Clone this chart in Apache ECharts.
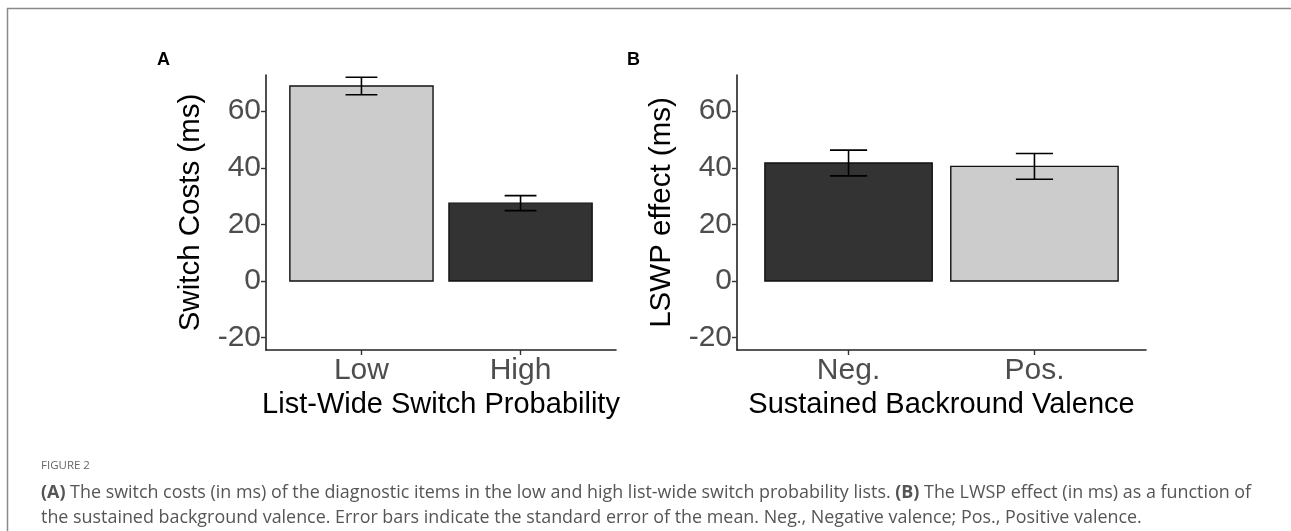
<!DOCTYPE html>
<html>
<head>
<meta charset="utf-8">
<script src="https://cdn.jsdelivr.net/npm/echarts@6/dist/echarts.min.js"></script>
<style>
html,body{margin:0;padding:0;background:#fff;}
#chart{width:1291px;height:531px;}
</style>
</head>
<body>
<div id="chart"></div>
<script>
// ---- data ----
const categoriesA = ['Low', 'High'];
const meansA = [68.9, 27.5];
const seA = [3.1, 2.65];
const categoriesB = ['Neg.', 'Pos.'];
const meansB = [41.7, 40.5];
const seB = [4.55, 4.55];
const yTicks = [-20, 0, 20, 40, 60];
const titleAxisA = 'List-Wide Switch Probability';
const titleAxisB = 'Sustained Backround Valence';
const yTitleA = 'Switch Costs (ms)';
const yTitleB = 'LSWP effect (ms)';
const captionHead = 'FIGURE 2';
const captionLine1 = ['(A)', ' The switch costs (in ms) of the diagnostic items in the low and high list-wide switch probability lists. ', '(B)', ' The LWSP effect (in ms) as a function of'];
const captionLine2 = 'the sustained background valence. Error bars indicate the standard error of the mean. Neg., Negative valence; Pos., Positive valence.';

// ---- styling ----
const LIGHT = '#cccccc', DARK = '#333333';
const fillsA = [LIGHT, DARK];
const fillsB = [DARK, LIGHT];
const FONT = '"Liberation Sans", Arial, sans-serif';
const CAPFONT = '"Open Sans", "Noto Sans", sans-serif';

// fit caption font to target line width
const cv = document.createElement('canvas').getContext('2d');
cv.font = '15px "Open Sans"';
const w15 = cv.measureText(captionLine1.join('')).width;
const capSize = Math.round(15 * 1208 / w15 * 10) / 10;

const chart = echarts.init(document.getElementById('chart'), null, {renderer: 'canvas'});

function xAxisFor(gridIndex, cats, name) {
  return {
    type: 'value', gridIndex, min: 0.4, max: 2.6,
    name, nameLocation: 'middle', nameGap: 39,
    nameTextStyle: {fontFamily: FONT, fontSize: 29, color: '#000'},
    axisLine: {show: true, onZero: false, lineStyle: {color: '#222', width: 1.6}},
    axisTick: {show: true, length: 5, lineStyle: {color: '#333', width: 1.4}, customValues: [1, 2]},
    axisLabel: {customValues: [1, 2], formatter: v => cats[Math.round(v) - 1], fontFamily: FONT, fontSize: 30, color: '#4d4d4d', margin: 6},
    splitLine: {show: false}
  };
}
function yAxisFor(gridIndex, name) {
  return {
    type: 'value', gridIndex, min: -24.4, max: 72.8,
    name, nameLocation: 'middle', nameGap: 60,
    nameTextStyle: {fontFamily: FONT, fontSize: 29.5, color: '#000'},
    axisLine: {show: true, onZero: false, lineStyle: {color: '#222', width: 1.6}},
    axisTick: {show: true, length: 5, lineStyle: {color: '#333', width: 1.4}, customValues: yTicks},
    axisLabel: {customValues: yTicks, fontFamily: FONT, fontSize: 30, color: '#4d4d4d', margin: 5},
    splitLine: {show: false}
  };
}
function barSeries(idx, means, fills) {
  return {
    type: 'custom', xAxisIndex: idx, yAxisIndex: idx,
    data: means.map((m, i) => [i + 1, m]),
    renderItem: (params, api) => {
      const x = api.value(0), y = api.value(1);
      const p0 = api.coord([x - 0.45, 0]);
      const p1 = api.coord([x + 0.45, y]);
      return {type: 'rect', shape: {x: p0[0], y: p1[1], width: p1[0] - p0[0], height: p0[1] - p1[1]},
        style: {fill: fills[params.dataIndex], stroke: '#111', lineWidth: 1.4}};
    }
  };
}
function errSeries(idx, means, ses) {
  return {
    type: 'custom', xAxisIndex: idx, yAxisIndex: idx, z: 5,
    data: means.map((m, i) => [i + 1, m - ses[i], m + ses[i]]),
    renderItem: (params, api) => {
      const x = api.value(0), lo = api.value(1), hi = api.value(2);
      const a = api.coord([x - 0.1, hi]), b = api.coord([x + 0.1, hi]);
      const c = api.coord([x - 0.1, lo]), d = api.coord([x + 0.1, lo]);
      const m1 = api.coord([x, hi]), m2 = api.coord([x, lo]);
      const st = {stroke: '#000', lineWidth: 1.6};
      return {type: 'group', children: [
        {type: 'line', shape: {x1: a[0], y1: a[1], x2: b[0], y2: b[1]}, style: st},
        {type: 'line', shape: {x1: c[0], y1: c[1], x2: d[0], y2: d[1]}, style: st},
        {type: 'line', shape: {x1: m1[0], y1: m1[1], x2: m2[0], y2: m2[1]}, style: st}
      ]};
    }
  };
}

const option = {
  animation: false,
  backgroundColor: '#fff',
  grid: [
    {left: 266, top: 75, width: 350, height: 275, outerBoundsMode: 'none', containLabel: false},
    {left: 737, top: 75, width: 409, height: 275, outerBoundsMode: 'none', containLabel: false}
  ],
  xAxis: [xAxisFor(0, categoriesA, titleAxisA), xAxisFor(1, categoriesB, titleAxisB)],
  yAxis: [yAxisFor(0, yTitleA), yAxisFor(1, yTitleB)],
  series: [
    barSeries(0, meansA, fillsA), errSeries(0, meansA, seA),
    barSeries(1, meansB, fillsB), errSeries(1, meansB, seB)
  ],
  graphic: [
    {type: 'line', shape: {x1: 7, y1: 8.5, x2: 1291, y2: 8.5}, style: {stroke: '#8a8a8a', lineWidth: 1.5}},
    {type: 'line', shape: {x1: 7.5, y1: 8, x2: 7.5, y2: 531}, style: {stroke: '#8a8a8a', lineWidth: 1.5}},
    {type: 'text', left: 157, top: 51, style: {text: 'A', font: 'bold 18px ' + FONT, fill: '#000'}},
    {type: 'text', left: 627, top: 51, style: {text: 'B', font: 'bold 18px ' + FONT, fill: '#000'}},
    {type: 'text', left: 41, top: 460, style: {text: captionHead, fontFamily: CAPFONT, fontSize: 11.5, fill: '#666'}},
    {type: 'text', left: 41, top: 484, style: {
      text: '{b|' + captionLine1[0] + '}' + captionLine1[1] + '{b|' + captionLine1[2] + '}' + captionLine1[3],
      fontFamily: CAPFONT, fontSize: capSize, fill: '#555',
      rich: {b: {fontFamily: CAPFONT, fontSize: capSize, fontWeight: 'bold', fill: '#555'}}
    }},
    {type: 'text', left: 41, top: 509, style: {text: captionLine2, fontFamily: CAPFONT, fontSize: capSize, fill: '#555'}}
  ]
};
chart.setOption(option);
</script>
</body>
</html>
